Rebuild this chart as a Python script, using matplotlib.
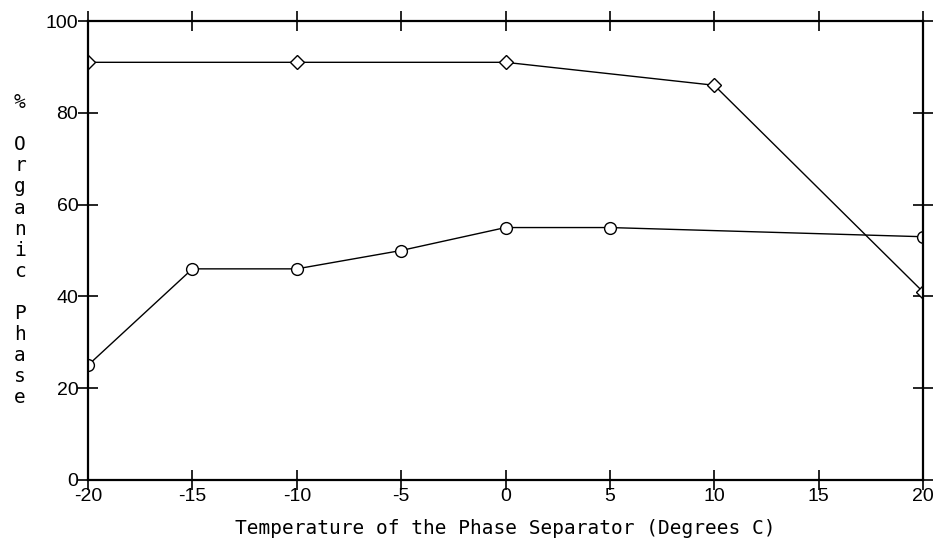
import matplotlib
matplotlib.use('Agg')
import matplotlib.pyplot as plt

# data
diamond_temp = [-20, -10, 0, 10, 20]
diamond_pct = [91, 91, 91, 86, 41]
circle_temp = [-20, -15, -10, -5, 0, 5, 20]
circle_pct = [25, 46, 46, 50, 55, 55, 53]

x_ticks = [-20, -15, -10, -5, 0, 5, 10, 15, 20]
y_ticks = [0, 20, 40, 60, 80, 100]

fig = plt.figure(figsize=(9.34, 5.46), dpi=100)
ax = fig.add_axes([88 / 934, 1 - 480 / 546, (923 - 88) / 934, (480 - 21) / 546])

ax.plot(diamond_temp, diamond_pct, color='black', linewidth=1.0,
        marker='D', markersize=7, markerfacecolor='white', markeredgecolor='black', markeredgewidth=1.0)
ax.plot(circle_temp, circle_pct, color='black', linewidth=1.0,
        marker='o', markersize=8.5, markerfacecolor='white', markeredgecolor='black', markeredgewidth=1.0)

ax.set_xlim(-20, 20)
ax.set_ylim(0, 100)
ax.set_xticks(x_ticks)
ax.set_yticks(y_ticks)
ax.set_xticklabels([str(t) for t in x_ticks])

for s in ax.spines.values():
    s.set_linewidth(1.6)
ax.tick_params(direction='inout', length=14, width=1.2, top=True, right=True,
               labelsize=14)
ax.tick_params(axis='x', pad=-1)
ax.tick_params(axis='y', pad=0)
for lab in ax.get_xticklabels() + ax.get_yticklabels():
    lab.set_family('Liberation Sans')

ax.set_xlabel('Temperature of the Phase Separator (Degrees C)', family='DejaVu Sans Mono',
              fontsize=14, labelpad=10)

ylab = '%\n\nO\nr\ng\na\nn\ni\nc\n\nP\nh\na\ns\ne'
fig.text(20 / 934, 1 - 93 / 546, ylab, family='DejaVu Sans Mono', fontsize=14,
         ha='center', va='top', linespacing=1.14)

fig.savefig('out.png', dpi=100)
plt.close(fig)
